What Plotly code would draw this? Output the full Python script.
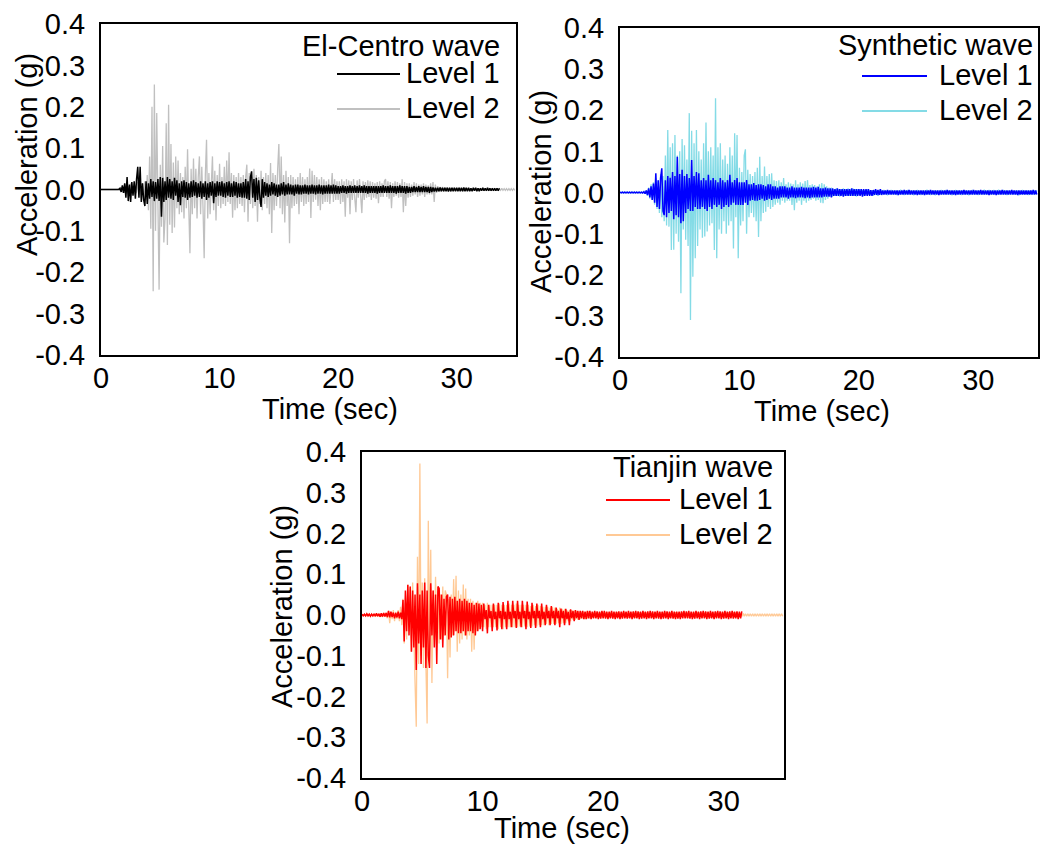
import numpy as np
import plotly.graph_objects as go

W, H = 1046, 846
DT = 0.1  # sampling interval of every record (s), first sample at t = 0

# ---------------- data (acceleration in milli-g, i.e. 0.001 g) ----------------
elcentro_level1_mg = [
    0,0,0,0,0,0,0,0,0,0,
    0,0,0,0,0,0,3,-6,10,-8,
    15,-20,30,-28,12,-30,18,-15,20,-22,
    25,55,-20,55,-30,15,-25,-40,20,-35,
    15,-22,25,-18,20,-28,18,-22,25,-28,
    30,-66,28,-30,20,-25,30,-20,25,-22,
    20,-25,28,-15,22,-30,15,-38,20,-18,
    22,-20,18,-25,15,-20,20,-18,22,-15,
    18,-20,15,-18,20,-22,15,-18,20,-25,
    15,-20,18,-15,20,-33,15,-18,20,-15,
    18,-15,20,-18,15,-20,18,-15,20,-18,
    15,-18,20,-15,18,-20,15,-18,15,-20,
    18,-20,25,-22,20,-25,30,44,-20,25,
    -30,28,-25,22,-20,-42,25,-20,18,-15,
    15,-18,12,-15,18,-12,15,-15,12,-18,
    12,-15,15,-12,18,-15,12,-12,15,-12,
    12,-12,10,-15,12,-10,12,-12,10,-12,
    10,-10,12,-10,10,-12,10,-10,12,-10,
    10,-12,10,-10,12,-10,10,-12,10,-10,
    10,-10,12,-10,10,-10,12,-10,10,-10,
    8,-10,8,-8,10,-8,8,-10,8,-8,
    10,-8,8,-8,10,-8,8,-8,10,-8,
    8,-8,10,-8,8,-10,8,-8,8,-8,
    8,-8,8,-10,8,-8,8,-8,10,-8,
    8,-8,8,-8,10,-8,8,-8,8,-10,
    8,-8,10,-8,8,-8,8,-10,8,-8,
    6,-8,6,-6,8,-6,6,-6,8,-6,
    6,-6,8,-6,6,-6,6,-8,6,-6,
    5,-5,4,-5,4,-4,5,-4,4,-4,
    4,-4,4,-5,4,-4,4,-4,4,-4,
    4,-4,4,-4,4,-4,5,-4,4,-4,
    4,-4,3,-4,4,-3,4,-4,3,-4,
    3,-3,4,-3,3,-3,4,-3,3,-3,
    3,-3,3,-3,3,-3,3,
]
elcentro_level2_mg = [
    0,0,0,0,0,0,0,0,0,0,
    0,0,0,0,0,2,-3,4,-6,5,
    -8,12,-10,8,-14,15,-10,9,-12,10,
    -9,18,-14,22,-20,15,-28,20,-25,35,
    -50,80,-95,200,-246,254,-100,185,-105,-242,
    60,-90,105,-128,-70,160,-134,205,-85,110,
    -105,65,-92,80,-45,70,-60,40,-55,30,
    -70,55,-45,97,-40,-154,50,-60,75,-45,
    50,-70,30,80,-60,55,-40,-166,35,120,
    -70,40,-60,30,80,-50,45,-75,35,-40,
    62,-45,30,-35,55,-40,70,-30,90,-35,
    40,-68,35,-50,30,-45,40,-35,30,-40,
    35,-55,30,60,-78,40,-35,30,-45,50,
    -40,35,-78,30,-35,45,-50,30,-35,40,
    -45,35,-60,64,-105,40,-50,35,-40,50,
    110,-45,80,-60,35,-80,45,-40,30,-130,
    35,-45,30,-40,25,-35,30,-60,40,-30,
    30,-40,25,-35,30,-30,51,-69,45,-30,
    35,-25,30,-40,25,-50,30,-35,25,-30,
    20,-30,25,-35,20,40,-30,25,-25,20,
    -25,20,-35,25,-30,20,-66,25,-20,22,
    -60,20,-25,25,-20,-55,22,-20,25,-20,
    -57,20,-25,18,-20,22,-18,20,-25,18,
    -20,15,-22,18,-33,20,-18,15,-18,20,
    25,-18,20,-22,18,-45,15,-18,20,-15,
    18,-20,15,-18,25,-55,18,-40,15,-20,
    15,-18,12,-15,18,-12,15,-18,12,-15,
    12,-12,15,-18,12,-12,10,-12,15,-12,
    18,-30,12,-8,8,-6,6,-5,6,-5,
    5,-4,5,-4,4,-5,4,-3,4,-3,
    3,-3,4,-3,3,-4,3,-3,3,-3,
    3,-2,3,-3,2,-3,3,-2,3,-2,
    2,-3,2,-2,3,-2,2,-2,2,-2,
    2,-2,2,-3,2,-2,2,-2,3,-2,
    2,-2,2,-2,2,-2,2,-2,2,-2,
]
synthetic_level1_mg = [
    1,-1,1,-1,1,-1,1,-1,1,-1,
    1,-1,1,-1,1,-1,1,-1,1,-1,
    2,-3,5,-6,10,-12,15,-18,22,-25,
    47,-35,30,-40,35,59,-45,-55,30,-60,
    40,-50,36,-45,50,-65,40,-55,87,-60,
    45,-75,55,-70,40,-50,45,-40,35,-45,
    79,-45,40,-35,50,-40,47,-40,30,-35,
    35,-40,30,-45,43,-35,30,-40,35,-30,
    30,-35,25,-30,35,-40,30,-35,25,-30,
    30,-35,43,-30,25,-25,30,-30,35,-30,
    25,-30,25,-30,25,-25,30,-30,20,-20,
    20,-18,23,-20,18,-20,20,-18,20,-15,
    18,-20,15,-18,20,-15,20,-18,15,-15,
    15,-15,12,-15,15,-12,15,-12,15,-12,
    12,-15,12,-12,15,-12,12,-14,12,-12,
    12,-12,14,-12,12,-14,12,-12,12,-14,
    12,-12,14,-12,12,-12,14,-12,10,-12,
    10,-10,12,-10,10,-10,10,-12,10,-8,
    8,-8,10,-8,8,-8,8,-10,8,-8,
    8,-8,8,-8,10,-8,8,-8,8,-8,
    8,-8,8,-10,8,-8,8,-8,8,-8,
    6,-8,6,-6,8,-6,6,-6,8,-6,
    5,-5,5,-5,6,-5,5,-5,5,-5,
    5,-5,5,-6,5,-5,5,-5,6,-5,
    5,-5,6,-5,5,-5,5,-5,5,-6,
    5,-5,5,-5,5,-6,5,-5,5,-5,
    6,-5,5,-5,5,-5,5,-6,5,-5,
    5,-5,5,-5,6,-5,5,-5,5,-5,
    5,-6,5,-5,5,-5,5,-5,6,-5,
    5,-5,5,-5,5,-5,6,-5,5,-5,
    5,-5,6,-5,5,-5,5,-5,5,-6,
    5,-5,5,-5,5,-6,5,-5,5,-5,
    6,-5,5,-5,5,-5,5,-5,6,-5,
    5,-5,5,-6,5,-5,5,-5,5,-5,
    5,-5,5,-5,5,-5,6,-5,5,-5,
]
synthetic_level2_mg = [
    1,-1,1,-1,1,-1,1,-1,1,-1,
    1,-1,1,-1,1,-1,1,-1,1,-1,
    2,-3,5,-8,12,-15,20,-18,25,-30,
    35,-40,30,-50,45,-60,40,-70,90,-80,
    152,-83,110,-140,120,-139,140,-100,90,-120,
    100,-245,130,-90,115,-115,80,-130,193,-310,
    150,-205,120,-160,152,-130,100,-90,80,-110,
    120,-107,170,-95,100,-80,110,-75,90,-140,
    229,-160,110,-90,120,-100,80,-70,90,-100,
    70,-80,110,-70,90,-136,144,-60,140,-160,
    60,-80,50,-70,90,105,-100,55,-60,45,
    -50,40,-60,50,-70,60,-108,87,-70,40,
    -50,63,-47,40,-35,45,-40,47,-35,30,
    -30,28,-25,30,-30,25,-20,35,-25,20,
    -20,25,-20,22,-30,20,-43,30,-25,20,
    -20,25,-30,22,-20,28,-25,30,-20,18,
    -18,20,-15,18,-20,15,-18,20,-25,23,
    -26,20,-18,15,-15,12,-10,12,-10,8,
    -8,10,-8,8,-10,8,-8,10,-8,8,
    -8,10,-8,8,-8,10,-8,8,-10,8,
    -6,8,-6,6,-8,6,-6,8,-6,6,
    -6,6,-8,6,-6,6,-8,6,-6,6,
    -5,6,-5,5,-7,5,-5,6,-5,5,
    -5,5,-6,5,-5,7,-5,5,-6,5,
    -5,6,-5,5,-5,5,-7,5,-5,6,
    -5,5,-6,5,-5,5,-5,7,-5,5,
    -6,5,-5,5,-7,5,-5,5,-5,6,
    -5,5,-5,6,-5,5,-5,5,-7,5,
    -5,6,-5,5,-5,5,-6,5,-5,5,
    -5,5,-7,5,-5,6,-5,5,-5,5,
    -6,5,-5,5,-5,7,-5,5,-5,6,
    -5,5,-5,6,-5,5,-5,7,-5,5,
    -5,6,-5,5,-6,5,-5,5,-5,5,
    -5,5,-5,5,-7,5,-5,6,-5,5,
    -5,5,-6,5,-5,5,-5,5,-5,5,
]
tianjin_level1_mg = [
    2,-2,2,-2,3,-2,2,-3,2,-2,
    3,-3,4,-3,3,-4,4,-4,5,-4,
    5,-5,10,-6,8,-5,6,-8,5,-6,
    8,-8,6,-10,37,-65,60,-40,74,-50,
    70,-90,60,-80,50,-135,78,-70,50,-120,
    60,-80,80,-130,60,-100,-130,78,-50,60,
    -80,50,-120,70,65,-60,50,-80,40,-50,
    45,50,-60,45,-55,40,-50,45,-40,35,
    -45,40,-45,35,-40,40,-50,35,-40,30,
    -40,30,-45,25,-50,30,-40,28,-35,25,
    -40,28,-10,12,-45,25,-8,10,-40,28,
    -10,8,-38,30,-8,10,-35,32,-10,8,
    -35,35,-10,8,-30,35,-8,10,-32,35,
    -10,8,-30,35,-8,10,-35,33,-10,8,
    -32,30,-8,10,-32,28,-8,10,-30,28,
    -10,8,-25,25,-8,10,-25,22,-8,10,
    -25,18,-8,10,-30,16,-8,10,-25,15,
    -10,8,-25,14,-8,10,-15,12,-8,10,
    -12,10,-8,10,-10,8,-10,10,-8,10,
    -10,8,-8,10,-8,9,-10,8,-9,10,
    -8,10,-9,8,-10,8,-8,10,-9,8,
    -10,8,-8,9,-10,8,-9,10,-8,8,
    -9,10,-8,8,-10,9,-8,10,-8,9,
    -10,8,-9,10,-8,8,-10,9,-8,10,
    -8,9,-10,8,-8,10,-9,8,-10,8,
    -9,10,-8,9,-10,8,-8,10,-9,8,
    -10,8,-9,8,-10,9,-8,10,-8,9,
    -8,10,-9,8,-10,8,-9,10,-8,8,
    -10,9,-8,10,-8,9,-10,8,-9,10,
    -8,8,-10,9,-8,10,-8,9,-10,8,
    -9,10,-8,8,-10,9,-8,10,-9,8,
    -8,9,-10,8,-8,9,
]
tianjin_level2_mg = [
    2,-2,2,-3,3,-2,3,-3,2,-3,
    3,-4,3,-4,4,-5,4,-5,5,-4,
    6,-8,10,-20,8,-10,12,-15,8,-10,
    12,-15,20,-25,40,-70,30,-60,74,-40,
    70,-90,80,-100,-167,-274,143,-120,372,-100,
    80,-130,90,-120,-266,231,-80,160,-167,60,
    -60,94,-80,60,-70,50,-60,70,-50,60,
    50,-155,40,-104,50,-50,88,-40,96,-90,
    60,-70,50,-60,75,-50,65,-60,40,-50,
    40,-90,35,-85,30,-40,35,-35,30,-30,
    30,-30,25,-35,30,-30,25,-30,25,-30,
    25,-30,25,-35,28,-30,25,-35,25,-30,
    25,-30,28,-30,25,-30,25,-30,28,-30,
    25,-28,25,-30,25,-28,25,-30,25,-28,
    22,-28,25,-25,22,-28,25,-25,22,-25,
    20,-25,20,-22,20,-25,18,-22,20,-22,
    18,-22,15,-20,18,-22,15,-20,15,-20,
    12,-15,12,-15,12,-12,10,-12,10,-12,
    8,-10,8,-8,8,-10,8,-8,8,-8,
    6,-7,6,-6,7,-6,6,-7,6,-6,
    7,-6,6,-7,6,-6,7,-6,6,-7,
    6,-6,7,-6,6,-7,6,-6,7,-6,
    6,-7,6,-6,7,-6,6,-7,6,-6,
    7,-6,6,-6,7,-6,6,-7,6,-6,
    6,-7,6,-6,7,-6,6,-6,7,-6,
    6,-6,7,-6,6,-7,6,-6,6,-7,
    7,-6,6,-7,6,-6,7,-6,6,-6,
    6,-7,6,-6,6,-7,6,-6,7,-6,
    6,-6,7,-6,6,-6,7,-6,6,-7,
    7,-6,6,-6,7,-6,6,-7,6,-6,
    6,-7,6,-6,7,-6,6,-6,7,-6,
    6,-6,5,-5,4,-4,4,-3,3,-3,
    3,-3,3,-3,3,-3,3,-3,3,-3,
    3,-3,3,-3,3,-3,3,-3,3,-3,
    3,-3,3,-3,3,-3,3,-3,3,-3,
]

wave_names = ["El-Centro wave", "Synthetic wave", "Tianjin wave"]
level_names = ["Level 1", "Level 2"]
records = [
    (elcentro_level1_mg, elcentro_level2_mg),
    (synthetic_level1_mg, synthetic_level2_mg),
    (tianjin_level1_mg, tianjin_level2_mg),
]
x_tick_vals = [0, 10, 20, 30]
x_tick_text = ["0", "10", "20", "30"]
y_tick_vals = [-0.4, -0.3, -0.2, -0.1, 0.0, 0.1, 0.2, 0.3, 0.4]
y_tick_text = ["-0.4", "-0.3", "-0.2", "-0.1", "0.0", "0.1", "0.2", "0.3", "0.4"]
x_title = "Time (sec)"
y_title = "Acceleration (g)"

# ---------------- styling / layout ----------------
FONT = "Liberation Sans, Arial, Helvetica, sans-serif"
FS = 29
colors = [("#000000", "#c0c0c0"), ("#0000ff", "#84dbe6"), ("#ff0000", "#ffc995")]

# panel boxes in pixels: left, right, top, bottom
boxes = [(101, 516, 24, 355), (620, 1038, 28, 357), (362, 784, 452, 778)]
# axis-title centres in pixels
xtitle_pos = [(330, 409), (822, 411), (562, 828)]
ytitle_pos = [(27, 155), (541, 192), (282, 607)]
# legend geometry: (text right edge, title y, level1 y, level2 y, line x0, line x1)
legend_geo = [
    (502, 46, 73, 108, 337, 400),
    (1035, 45, 75, 110, 862, 927),
    (775, 467, 499, 534, 606, 670),
]


def fx(px):
    return px / W


def fy(py):
    return 1 - py / H


fig = go.Figure()
layout = dict(
    width=W, height=H, margin=dict(l=0, r=0, t=0, b=0, autoexpand=False),
    paper_bgcolor="white", plot_bgcolor="white", showlegend=False,
    font=dict(family=FONT, size=FS, color="black"),
)
annotations = []
shapes = []

for i, ((lv1, lv2), (c1, c2)) in enumerate(zip(records, colors)):
    sfx = "" if i == 0 else str(i + 1)
    xa, ya = "x" + sfx, "y" + sfx
    for vals, col, name, lw in ((lv2, c2, level_names[1], 1.3), (lv1, c1, level_names[0], 1.5)):
        fig.add_trace(go.Scatter(
            x0=0, dx=DT, y=np.array(vals) / 1000.0, mode="lines",
            line=dict(color=col, width=lw), name=f"{wave_names[i]} {name}",
            xaxis=xa, yaxis=ya, hoverinfo="skip",
        ))
    l, r, t, b = boxes[i]
    axis_common = dict(showline=True, mirror=True, linecolor="black", linewidth=2,
                       showgrid=False, zeroline=False, ticks="", ticklen=0,
                       automargin=False,
                       tickfont=dict(family=FONT, size=FS, color="black"))
    layout["xaxis" + sfx] = dict(domain=[fx(l), fx(r)], range=[0, 35], anchor=ya,
                                 tickvals=x_tick_vals, ticktext=x_tick_text,
                                 ticklabelstandoff=-4, **axis_common)
    layout["yaxis" + sfx] = dict(domain=[fy(b), fy(t)], range=[-0.4, 0.4], anchor=xa,
                                 tickvals=y_tick_vals, ticktext=y_tick_text,
                                 ticklabelstandoff=8, **axis_common)
    # axis titles
    annotations.append(dict(text=x_title, x=fx(xtitle_pos[i][0]), y=fy(xtitle_pos[i][1]),
                             xref="paper", yref="paper", showarrow=False,
                             xanchor="center", yanchor="middle",
                             font=dict(family=FONT, size=FS, color="black")))
    annotations.append(dict(text=y_title, x=fx(ytitle_pos[i][0]), y=fy(ytitle_pos[i][1]),
                             xref="paper", yref="paper", showarrow=False, textangle=-90,
                             xanchor="center", yanchor="middle",
                             font=dict(family=FONT, size=FS, color="black")))
    # legend
    tx, ty0, ty1, ty2, lx0, lx1 = legend_geo[i]
    for txt, yy in ((wave_names[i], ty0), (level_names[0], ty1), (level_names[1], ty2)):
        annotations.append(dict(text=txt, x=fx(tx), y=fy(yy), xref="paper", yref="paper",
                                showarrow=False, xanchor="right", yanchor="middle",
                                font=dict(family=FONT, size=FS, color="black")))
    for col, yy in ((c1, ty1 + 1), (c2, ty2 + 1)):
        shapes.append(dict(type="line", xref="paper", yref="paper",
                           x0=fx(lx0), x1=fx(lx1), y0=fy(yy), y1=fy(yy),
                           line=dict(color=col, width=2)))

layout["annotations"] = annotations
layout["shapes"] = shapes
fig.update_layout(**layout)
fig.write_html("out.html")
